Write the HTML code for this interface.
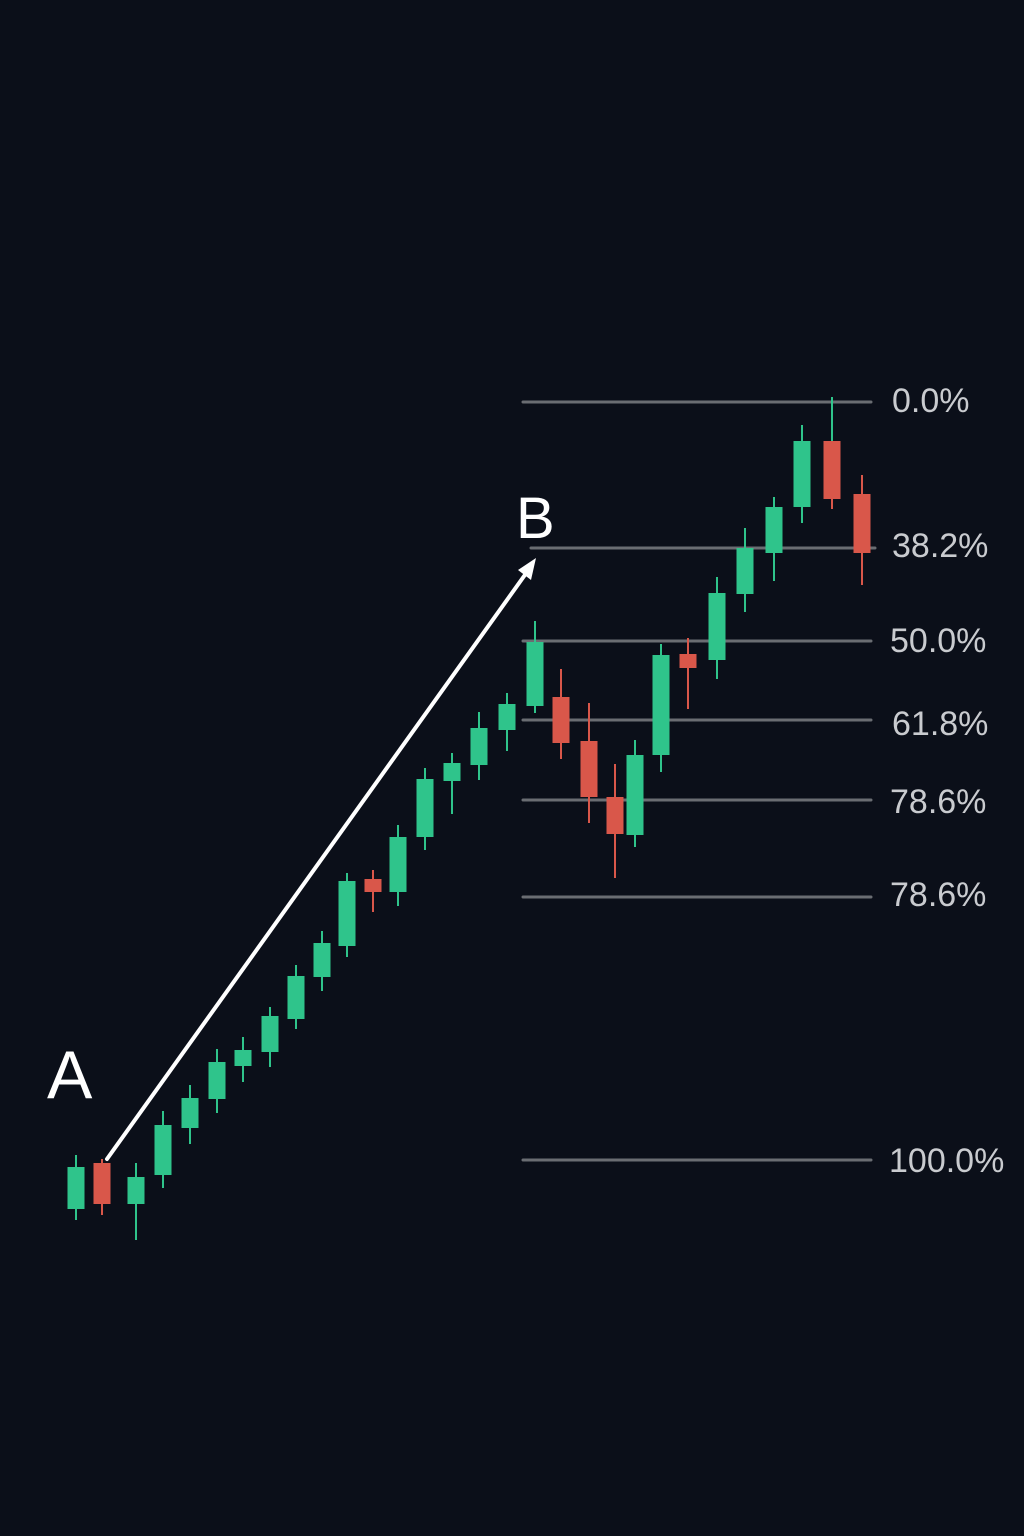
<!DOCTYPE html>
<html><head><style>
html,body{margin:0;padding:0;background:#0b0f19;}
svg{display:block}
</style></head><body>
<svg width="1024" height="1536" viewBox="0 0 1024 1536" xmlns="http://www.w3.org/2000/svg">
<rect width="1024" height="1536" fill="#0b0f19"/>
<g stroke="#6a6d72" stroke-width="3" stroke-linecap="round">
<line x1="523" y1="402" x2="871" y2="402"/>
<line x1="531" y1="548" x2="875" y2="548"/>
<line x1="523" y1="641" x2="871" y2="641"/>
<line x1="523" y1="720" x2="871" y2="720"/>
<line x1="523" y1="800" x2="871" y2="800"/>
<line x1="523" y1="897" x2="871" y2="897"/>
<line x1="523" y1="1160" x2="871" y2="1160"/>
</g>
<g font-family="Liberation Sans, sans-serif" font-size="34" fill="#c9cbcf">
<text x="892" y="412">0.0%</text>
<text x="892" y="557">38.2%</text>
<text x="890" y="652">50.0%</text>
<text x="892" y="735">61.8%</text>
<text x="890" y="813">78.6%</text>
<text x="890" y="906">78.6%</text>
<text x="889" y="1172">100.0%</text>
</g>
<g font-family="Liberation Sans, sans-serif" fill="#ffffff">
<text x="47" y="1098" font-size="68">A</text>
<text x="516" y="538" font-size="58">B</text>
</g>
<line x1="107" y1="1159" x2="527" y2="572" stroke="#ffffff" stroke-width="4" stroke-linecap="round"/>
<polygon points="536,558 518,570 531,580" fill="#ffffff"/>
<g stroke="#2fc48b" stroke-width="2">
<line x1="76" y1="1155" x2="76" y2="1220"/>
<line x1="136" y1="1163" x2="136" y2="1240"/>
<line x1="163" y1="1111" x2="163" y2="1188"/>
<line x1="190" y1="1085" x2="190" y2="1144"/>
<line x1="217" y1="1049" x2="217" y2="1113"/>
<line x1="243" y1="1037" x2="243" y2="1082"/>
<line x1="270" y1="1007" x2="270" y2="1067"/>
<line x1="296" y1="965" x2="296" y2="1029"/>
<line x1="322" y1="931" x2="322" y2="991"/>
<line x1="347" y1="873" x2="347" y2="957"/>
<line x1="398" y1="825" x2="398" y2="906"/>
<line x1="425" y1="768" x2="425" y2="850"/>
<line x1="452" y1="753" x2="452" y2="814"/>
<line x1="479" y1="712" x2="479" y2="780"/>
<line x1="507" y1="693" x2="507" y2="751"/>
<line x1="535" y1="621" x2="535" y2="713"/>
<line x1="635" y1="740" x2="635" y2="847"/>
<line x1="661" y1="644" x2="661" y2="772"/>
<line x1="717" y1="577" x2="717" y2="679"/>
<line x1="745" y1="528" x2="745" y2="612"/>
<line x1="774" y1="497" x2="774" y2="581"/>
<line x1="802" y1="425" x2="802" y2="523"/>
<line x1="832" y1="397" x2="832" y2="441"/>
</g>
<g fill="#2fc48b">
<rect x="67.5" y="1167" width="17" height="42"/>
<rect x="127.5" y="1177" width="17" height="27"/>
<rect x="154.5" y="1125" width="17" height="50"/>
<rect x="181.5" y="1098" width="17" height="30"/>
<rect x="208.5" y="1062" width="17" height="37"/>
<rect x="234.5" y="1050" width="17" height="16"/>
<rect x="261.5" y="1016" width="17" height="36"/>
<rect x="287.5" y="976" width="17" height="43"/>
<rect x="313.5" y="943" width="17" height="34"/>
<rect x="338.5" y="881" width="17" height="65"/>
<rect x="389.5" y="837" width="17" height="55"/>
<rect x="416.5" y="779" width="17" height="58"/>
<rect x="443.5" y="763" width="17" height="18"/>
<rect x="470.5" y="728" width="17" height="37"/>
<rect x="498.5" y="704" width="17" height="26"/>
<rect x="526.5" y="642" width="17" height="64"/>
<rect x="626.5" y="755" width="17" height="80"/>
<rect x="652.5" y="655" width="17" height="100"/>
<rect x="708.5" y="593" width="17" height="67"/>
<rect x="736.5" y="548" width="17" height="46"/>
<rect x="765.5" y="507" width="17" height="46"/>
<rect x="793.5" y="441" width="17" height="66"/>
</g>
<g stroke="#d9574a" stroke-width="2">
<line x1="102" y1="1159" x2="102" y2="1215"/>
<line x1="373" y1="870" x2="373" y2="912"/>
<line x1="561" y1="669" x2="561" y2="759"/>
<line x1="589" y1="703" x2="589" y2="823"/>
<line x1="615" y1="764" x2="615" y2="878"/>
<line x1="688" y1="638" x2="688" y2="709"/>
<line x1="832" y1="441" x2="832" y2="509"/>
<line x1="862" y1="475" x2="862" y2="585"/>
</g>
<g fill="#d9574a">
<rect x="93.5" y="1163" width="17" height="41"/>
<rect x="364.5" y="879" width="17" height="13"/>
<rect x="552.5" y="697" width="17" height="46"/>
<rect x="580.5" y="741" width="17" height="56"/>
<rect x="606.5" y="797" width="17" height="37"/>
<rect x="679.5" y="654" width="17" height="14"/>
<rect x="823.5" y="441" width="17" height="58"/>
<rect x="853.5" y="494" width="17" height="59"/>
</g>
</svg>
</body></html>
